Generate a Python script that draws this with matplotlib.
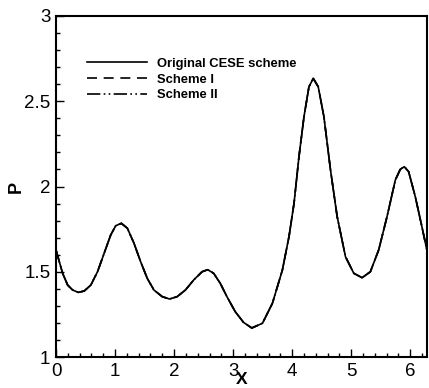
import matplotlib
matplotlib.use('Agg')
import matplotlib.pyplot as plt
import numpy as np
from matplotlib.ticker import MultipleLocator

plt.rcParams.update({
    'font.family': ['Liberation Sans', 'DejaVu Sans'],
    'font.size': 12,
})

# values
x = [0.000, 0.056, 0.112, 0.197, 0.281, 0.377, 0.478, 0.590, 0.703, 0.815,
     0.927, 1.012, 1.107, 1.209, 1.321, 1.433, 1.546, 1.658, 1.799, 1.922,
     2.052, 2.192, 2.333, 2.473, 2.569, 2.670, 2.782, 2.895, 3.035, 3.176,
     3.316, 3.497, 3.665, 3.834, 3.946, 4.031, 4.115, 4.200, 4.284, 4.357,
     4.441, 4.537, 4.649, 4.762, 4.903, 5.043, 5.184, 5.324, 5.465, 5.606,
     5.747, 5.831, 5.899, 5.972, 6.085, 6.197, 6.283]
p_orig = [1.628, 1.559, 1.491, 1.422, 1.393, 1.379, 1.387, 1.422, 1.500, 1.608,
          1.716, 1.770, 1.784, 1.755, 1.667, 1.559, 1.461, 1.393, 1.354, 1.340,
          1.354, 1.393, 1.452, 1.500, 1.512, 1.491, 1.432, 1.354, 1.266, 1.203,
          1.170, 1.198, 1.315, 1.510, 1.706, 1.901, 2.175, 2.410, 2.585, 2.634,
          2.585, 2.410, 2.097, 1.823, 1.588, 1.491, 1.465, 1.500, 1.628, 1.823,
          2.038, 2.101, 2.116, 2.087, 1.940, 1.764, 1.625]
# the two modified schemes lie on top of the original curve
p_scheme1 = list(p_orig)
p_scheme2 = list(p_orig)

labels = ['Original CESE scheme', 'Scheme I', 'Scheme II']

fig = plt.figure(figsize=(4.29, 3.88), dpi=100)
ax = fig.add_axes([56/429, 1 - 357/388, 371/429, 341/388])

ax.plot(x, p_orig, color='black', lw=1.2, label=labels[0],
        solid_joinstyle='round')
ax.plot(x, p_scheme1, color='black', lw=1.2, ls=(0, (6, 4)), label=labels[1])
ax.plot(x, p_scheme2, color='black', lw=1.2, ls=(0, (8, 2, 1, 2, 1, 2)),
        label=labels[2])

ax.set_xlim(0, 2*np.pi)
ax.set_ylim(1, 3)
ax.xaxis.set_major_locator(MultipleLocator(1))
ax.xaxis.set_minor_locator(MultipleLocator(0.2))
ax.yaxis.set_major_locator(MultipleLocator(0.5))
ax.yaxis.set_minor_locator(MultipleLocator(0.1))
ax.yaxis.set_major_formatter(plt.FuncFormatter(lambda v, _: f'{v:g}'))

ax.tick_params(which='both', direction='in', width=1.0, labelsize=13.5)
ax.tick_params(which='major', length=6, pad=4)
ax.tick_params(which='minor', length=3)
for s in ax.spines.values():
    s.set_linewidth(1.5)

ax.set_xlabel('X', fontsize=12.5, fontweight='bold')
ax.set_ylabel('P', fontsize=13, fontweight='bold')
ax.xaxis.set_label_coords(0.5, -0.044)
ax.yaxis.set_label_coords(-0.084, 0.5)

leg = ax.legend(loc='upper left', bbox_to_anchor=(0.051, 0.912), frameon=False,
                handlelength=4.6, handletextpad=0.75, labelspacing=0.28,
                prop={'weight': 'bold', 'size': 9.4})

fig.savefig('out.png', dpi=100)
